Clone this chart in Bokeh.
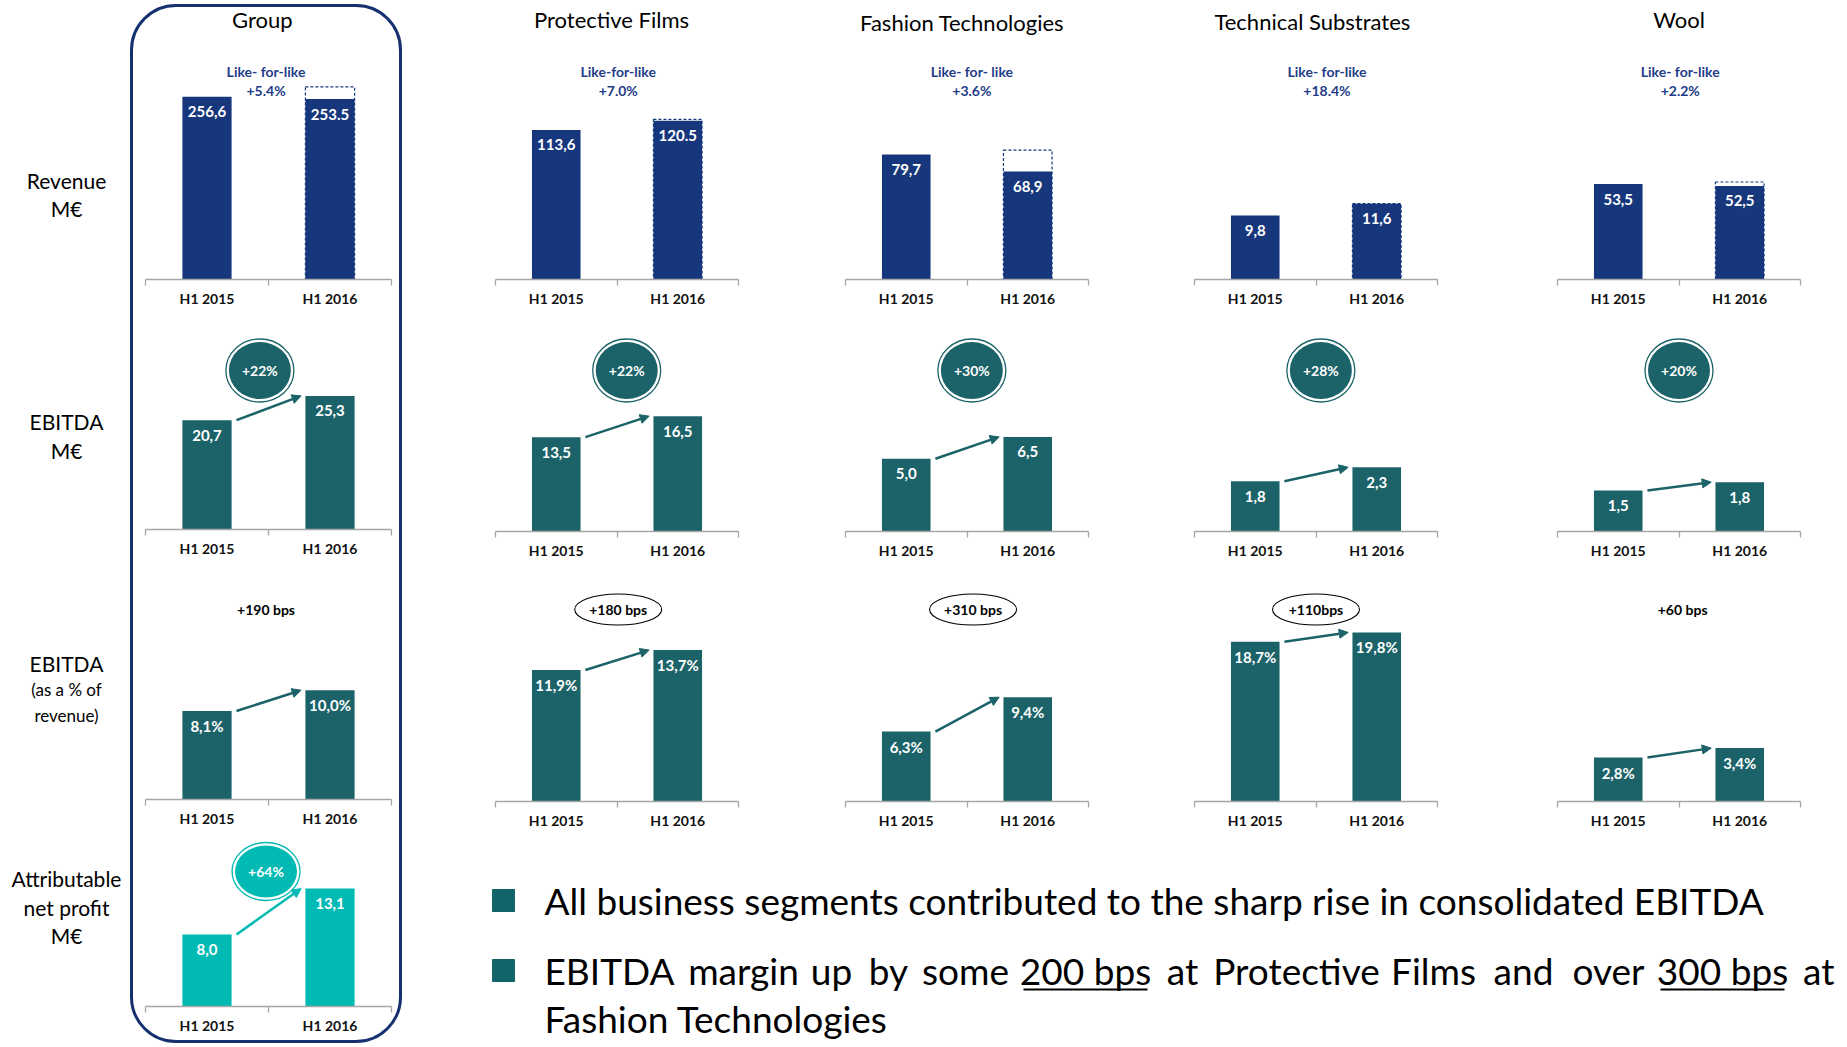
from bokeh.plotting import figure
from bokeh.layouts import row, column
from bokeh.models import Range1d, FixedTicker, Arrow, NormalHead, ColumnDataSource
from bokeh.core.properties import value
from bokeh.embed import file_html
from bokeh.resources import INLINE

# ---------------- data ----------------
segments = ["Group", "Protective Films", "Fashion Technologies", "Technical Substrates", "Wool"]
periods = ["H1 2015", "H1 2016"]

revenue_2015 = [256.6, 113.6, 79.7, 9.8, 53.5]
revenue_2016 = [253.5, 120.5, 68.9, 11.6, 52.5]
revenue_2015_labels = ["256,6", "113,6", "79,7", "9,8", "53,5"]
revenue_2016_labels = ["253.5", "120.5", "68,9", "11,6", "52,5"]
lfl_growth = [5.4, 7.0, 3.6, 18.4, 2.2]
lfl_headers = ["Like- for-like", "Like-for-like", "Like- for- like", "Like- for-like", "Like- for-like"]

ebitda_2015 = [20.7, 13.5, 5.0, 1.8, 1.5]
ebitda_2016 = [25.3, 16.5, 6.5, 2.3, 1.8]
ebitda_growth = ["+22%", "+22%", "+30%", "+28%", "+20%"]

margin_2015 = [8.1, 11.9, 6.3, 18.7, 2.8]
margin_2016 = [10.0, 13.7, 9.4, 19.8, 3.4]
margin_change = ["+190 bps", "+180 bps", "+310 bps", "+110bps", "+60 bps"]
margin_circled = [False, True, True, True, False]

net_profit = [8.0, 13.1]
net_profit_growth = "+64%"

row_labels = [["Revenue", "M€"], ["EBITDA", "M€"], ["EBITDA", "(as a % of", "revenue)"],
              ["Attributable", "net profit", "M€"]]
bullet_1 = "All business segments contributed to the sharp rise in consolidated EBITDA"
bullet_2_words = ["EBITDA", "margin", "up", "by", "some", "200 bps", "at", "Protective",
                  "Films", "and", "over", "300 bps", "at"]
bullet_2_underlined = ["200 bps", "300 bps"]
bullet_3 = "Fashion Technologies"

# ---------------- styles / layout (pixels) ----------------
FONT = "Lato"
NAVY = "#17377D"
NAVY_TXT = "#1F3C88"
TEAL = "#1C6369"
CYAN = "#00BAB3"
GRAY = "#A6A6A6"
BOX = "#15306F"
BULLET = "#10646A"

rev_ppu = [0.712, 1.317, 1.567, 6.54, 1.783]
ebitda_ppu = [5.28, 6.99, 14.55, 27.9, 27.4]
margin_ppu = [10.93, 11.05, 11.1, 8.54, 15.7]
np_ppu = 9.0

title_x = [0.95, 0.955, 0.96, 0.97, 1.0]
title_y = [19, 19, 22, 21, 19]
lfl_x = [0.98, 1.01, 1.04, 1.09, 1.01]
badge_x = [0.93, 1.08, 1.04, 1.04, 1.0]
bps_x = [0.98, 1.01, 1.05, 1.0, 1.03]

XPOS = [i + 0.5 for i in range(len(periods))]
BOUNDS = list(range(len(periods) + 1))
BAR_W = 0.4

# right block column geometry: (width, left border, right border)
right_cols = [(389, 93, 53), (349, 54, 52), (357, 54, 60), (350, 60, 47)]
right_rows = [(318, 279), (252, 531), (270, 801)]      # (height, baseline abs y)
right_tops = [0, 318, 570]
group_w, group_l, group_r = 266, 12, 8
group_rows = [(311, 279, 7), (250, 529, 318), (270, 799, 568), (202, 1006, 838)]  # height, baseline, top


def base_fig(**kw):
    p = figure(toolbar_location=None, tools="", output_backend="svg",
               background_fill_color=None, border_fill_color=None, outline_line_color=None, **kw)
    p.xgrid.visible = False
    p.ygrid.visible = False
    return p


def make_panel(width, height, left, right, top_abs, baseline, ppu):
    frame_h = baseline - top_abs
    bottom = height - frame_h
    p = base_fig(width=width, height=height, x_range=Range1d(0, len(periods)),
                 y_range=Range1d(0, frame_h / ppu), y_axis_location=None,
                 min_border_left=left, min_border_right=right, min_border_top=0,
                 min_border_bottom=bottom)
    ax = p.xaxis[0]
    ax.ticker = FixedTicker(ticks=XPOS, minor_ticks=BOUNDS)
    ax.major_label_overrides = dict(zip(XPOS, periods))
    ax.axis_line_color = GRAY
    ax.axis_line_width = 1.3
    ax.major_tick_line_color = None
    ax.major_tick_in = 0
    ax.major_tick_out = 0
    ax.minor_tick_line_color = GRAY
    ax.minor_tick_line_width = 1.3
    ax.minor_tick_in = 0
    ax.minor_tick_out = 6
    ax.major_label_standoff = 4
    ax.major_label_text_font = FONT
    ax.major_label_text_font_style = "bold"
    ax.major_label_text_font_size = "14px"
    ax.major_label_text_color = "#111111"

    def yd(px):
        return (baseline - px) / ppu
    return p, yd


def txt(p, x, y, s, color="black", size="14px", style="bold", align="center"):
    p.text(x=[x], y=[y], text=[s], text_align=align, text_baseline="middle",
           text_color=color, text_font=value(FONT), text_font_style=style,
           text_font_size=size)


def bars(p, vals, labels, color, dy=15):
    src = ColumnDataSource(dict(x=XPOS, top=vals, label=labels))
    p.vbar(x="x", top="top", width=BAR_W, source=src, fill_color=color, line_color=None)
    p.text(x="x", y="top", text="label", source=src, text_align="center", text_baseline="middle",
           y_offset=dy, text_color="white", text_font=value(FONT), text_font_style="bold",
           text_font_size="15px")


def arrow(p, v0, v1, color):
    p.add_layout(Arrow(end=NormalHead(size=9, fill_color=color, line_color=color, line_width=1),
                       x_start=XPOS[0] + BAR_W / 2 + 0.04, y_start=v0,
                       x_end=XPOS[1] - BAR_W / 2 - 0.035, y_end=v1,
                       line_color=color, line_width=2.5))


def badge(p, x, y, s, color, w=68, h=63):
    p.ellipse(x=[x], y=[y], width=w, height=h, width_units="screen", height_units="screen",
              fill_color=None, line_color=color, line_width=1.3)
    p.ellipse(x=[x], y=[y], width=w - 6, height=h - 6, width_units="screen", height_units="screen",
              fill_color=color, line_color=None)
    txt(p, x, y, s, color="white", size="14px")


def fmt(v, suffix=""):
    return f"{v:.1f}".replace(".", ",") + suffix


def revenue_panel(i, p, yd):
    txt(p, title_x[i], yd(title_y[i]), segments[i], color="black", size="22px", style="normal")
    txt(p, lfl_x[i], yd(71), lfl_headers[i], color=NAVY_TXT)
    txt(p, lfl_x[i], yd(90), f"+{lfl_growth[i]:.1f}%", color=NAVY_TXT)
    bars(p, [revenue_2015[i], revenue_2016[i]], [revenue_2015_labels[i], revenue_2016_labels[i]],
         NAVY, dy=15)
    lfl_value = revenue_2015[i] * (1 + lfl_growth[i] / 100)
    p.vbar(x=[XPOS[1]], top=[lfl_value], width=BAR_W, fill_color=None, line_color=NAVY,
           line_width=1.2, line_dash="3 2")


def ebitda_panel(i, p, yd):
    bars(p, [ebitda_2015[i], ebitda_2016[i]], [fmt(ebitda_2015[i]), fmt(ebitda_2016[i])], TEAL)
    arrow(p, ebitda_2015[i], ebitda_2016[i], TEAL)
    badge(p, badge_x[i], yd(370), ebitda_growth[i], TEAL)


def margin_panel(i, p, yd):
    bars(p, [margin_2015[i], margin_2016[i]], [fmt(margin_2015[i], "%"), fmt(margin_2016[i], "%")], TEAL)
    arrow(p, margin_2015[i], margin_2016[i], TEAL)
    if margin_circled[i]:
        p.ellipse(x=[bps_x[i]], y=[yd(609)], width=87, height=31, width_units="screen",
                  height_units="screen", fill_color="white", line_color="black", line_width=1.1)
    txt(p, bps_x[i], yd(609), margin_change[i], color="black", size="14px")


# ---------------- group column ----------------
g_figs = []
builders = [revenue_panel, ebitda_panel, margin_panel]
scales = [rev_ppu, ebitda_ppu, margin_ppu]
for r in range(3):
    h, base, top = group_rows[r]
    p, yd = make_panel(group_w, h, group_l, group_r, top, base, scales[r][0])
    builders[r](0, p, yd)
    g_figs.append(p)

h, base, top = group_rows[3]
p, yd = make_panel(group_w, h, group_l, group_r, top, base, np_ppu)
bars(p, net_profit, [fmt(v) for v in net_profit], CYAN)
arrow(p, net_profit[0], net_profit[1], CYAN)
badge(p, 0.98, yd(871), net_profit_growth, CYAN, w=68, h=58)
g_figs.append(p)

group_col = column(*g_figs, margin=(4, 0, 0, 0),
                   styles={"border": f"3px solid {BOX}", "border-radius": "46px"})

# ---------------- right block ----------------
right_rows_layout = []
for r in range(3):
    h, base = right_rows[r]
    figs = []
    for c in range(4):
        i = c + 1
        w, l, rr = right_cols[c]
        p, yd = make_panel(w, h, l, rr, right_tops[r], base, scales[r][i])
        builders[r](i, p, yd)
        figs.append(p)
    right_rows_layout.append(row(*figs))

# bullets
BFS = "37px"
bp = base_fig(width=1445, height=207, x_range=Range1d(402, 1847), y_range=Range1d(1047, 840),
              min_border=0, x_axis_location=None, y_axis_location=None)
bp.scatter(x=[503, 503], y=[900, 970], marker="square", size=22, color=BULLET)
txt(bp, 544, 900, bullet_1, size=BFS, style="normal", align="left")
word_x = [544, 743, 831, 888, 965, 1085, 1182, 1296, 1433, 1523, 1608, 1722, 1834]
word_align = ["left"] + ["center"] * 11 + ["right"]
for wd, xc, al in zip(bullet_2_words, word_x, word_align):
    txt(bp, xc, 970, wd, size=BFS, style="normal", align=al)
ul = [xc for wd, xc in zip(bullet_2_words, word_x) if wd in bullet_2_underlined]
bp.segment(x0=[xc - 62 for xc in ul], y0=[989] * len(ul), x1=[xc + 62 for xc in ul],
           y1=[989] * len(ul), line_color="black", line_width=2)
txt(bp, 544, 1018, bullet_3, size=BFS, style="normal", align="left")

right_block = column(*right_rows_layout, bp)

# ---------------- row labels ----------------
lp = base_fig(width=130, height=1047, x_range=Range1d(0, 130), y_range=Range1d(1047, 0),
              min_border=0, x_axis_location=None, y_axis_location=None)
label_y = [[180, 208], [421, 450], [663, 689, 715], [878, 907, 935]]
label_size = [["21px", "21px"], ["21px", "21px"], ["21px", "17px", "17px"], ["21px", "21px", "21px"]]
for lines, ys, ss in zip(row_labels, label_y, label_size):
    for s, y, fs in zip(lines, ys, ss):
        txt(lp, 66, y, s, size=fs, style="normal")

layout = row(lp, group_col, right_block)

open("out.html", "w").write(file_html(layout, INLINE))
